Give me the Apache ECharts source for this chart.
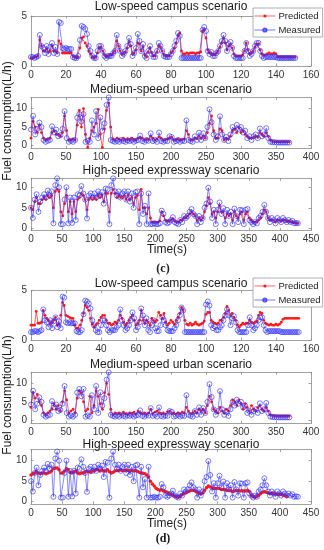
<!DOCTYPE html>
<html><head><meta charset="utf-8">
<script src="https://cdn.jsdelivr.net/npm/echarts@6/dist/echarts.min.js"></script>
<style>html,body{margin:0;padding:0;background:#fff}#c{width:324px;height:550px}</style>
</head><body><div id="c"></div>
<script>
// ---------- data (time step in seconds noted per array) ----------
const lowStep = 1, medStep = 3, highStep = 3;

const lowMeasC = [0.9,0.9,0.8,0.9,1.0, 3.1,2.0,1.8,1.3,2.0, 1.2,1.9,2.3,1.3,1.9, 1.2,4.4,4.3,1.8,1.7,
 1.8,1.7,1.7,1.7,0.9, 0.8,0.8,1.0,2.6,4.0, 3.9,3.7,3.2,2.0,1.5, 1.0,0.8,0.8,1.5,2.0,
 2.0,1.5,1.0,0.8,1.0, 1.0,1.0,1.3,1.5,3.1, 2.0,1.5,1.0,1.2,1.5, 2.0,2.8,2.2,1.0,1.3,
 1.8,3.2,2.5,1.5,2.2, 1.0,0.8,1.5,2.0,1.2, 0.9,0.9,1.5,2.3,2.0, 1.5,1.0,0.9,0.9,0.9,
 1.2,1.5,2.0,2.5,3.3, 3.0,0.8,0.8,0.8,0.8, 0.8,0.8,0.8,0.8,0.8, 0.8,0.8,0.8,3.6,3.9,
 3.5,1.5,1.2,1.4,1.0, 1.0,1.3,1.5,2.0,2.5, 3.1,2.5,1.5,2.2,2.4, 1.8,1.0,0.8,0.8,0.8,
 0.8,0.8,1.5,2.3,1.5, 1.0,1.2,1.5,2.0,2.3, 2.3,1.5,1.0,0.8,0.9, 0.9,0.9,0.9,0.9,0.9,
 0.9,0.8,0.8,0.8,0.8, 0.8,0.8,0.8,0.8,0.8, 0.8,0.8];

const lowPredC = [0.8,0.8,0.9,0.9,1.0, 2.6,2.0,1.5,1.5,1.7, 1.4,1.5,2.0,1.5,1.5, 1.3,2.5,2.2,1.3,1.3,
 1.3,1.3,1.3,1.3,1.0, 0.9,0.8,0.9,1.8,2.8, 2.9,2.3,2.0,1.5,1.2, 0.9,0.8,0.9,1.3,1.8,
 1.9,1.5,1.1,0.9,1.0, 1.1,1.1,1.3,1.5,2.5, 2.0,1.5,1.2,1.2,1.4, 1.8,2.4,2.0,1.2,1.3,
 1.6,2.3,2.2,1.5,1.9, 1.1,0.9,1.4,1.8,1.3, 1.0,1.0,1.4,2.0,1.9, 1.5,1.1,1.0,1.0,1.0,
 1.3,1.5,1.8,2.3,3.0, 3.3,1.5,1.2,1.2,1.3, 1.2,1.3,1.3,1.3,1.2, 1.3,1.3,1.4,3.5,3.6,
 2.8,1.6,1.3,1.3,1.1, 1.1,1.3,1.5,1.9,2.3, 2.8,2.3,1.6,2.0,2.2, 1.8,1.2,1.0,1.0,1.0,
 1.0,1.1,1.5,2.3,1.6, 1.2,1.3,1.5,1.9,2.2, 2.2,1.6,1.2,1.1,1.1, 1.2,1.3,1.2,1.2,1.3,
 1.2,0.9,0.9,0.9,0.9, 0.9,0.9,0.9,0.9,0.9, 0.9,0.9];

const lowMeasD = [0.8,0.8, 0.9,0.9,0.8,0.9,1.0, 3.1,2.0,1.8,1.3,2.0, 1.2,1.9,2.3,1.3,1.9, 1.2,4.4,4.3,1.8,1.7,
 1.8,1.7,1.7,1.7,0.9, 0.8,0.8,1.0,2.6,4.0, 3.9,3.7,3.2,2.0,1.5, 1.0,0.8,0.8,1.5,2.0,
 2.0,1.5,1.0,0.8,1.0, 1.0,1.0,1.3,1.5,3.1, 2.0,1.5,1.0,1.2,1.5, 2.0,2.8,2.2,1.0,1.3,
 1.8,3.2,2.5,1.5,2.2, 1.0,0.8,1.5,2.0,1.2, 0.9,0.9,1.5,2.3,2.0, 1.5,1.0,0.9,0.9,0.9,
 1.2,1.5,2.0,2.5,3.3, 3.0,0.8,0.8,0.8,0.8, 0.8,0.8,0.8,0.8,0.8, 0.8,0.8,0.8,3.6,3.9,
 3.5,1.5,1.2,1.4,1.0, 1.0,1.3,1.5,2.0,2.5, 3.1,2.5,1.5,2.2,2.4, 1.8,1.0,0.8,0.8,0.8,
 0.8,0.8,1.5,2.3,1.5, 1.0,1.2,1.5,2.0,2.3, 2.3,1.5,1.0,0.8,0.9, 0.9,0.9,0.9,0.9,0.9,
 0.9,0.8,0.8,0.8,0.8, 0.8,0.8,0.8,0.8,0.8, 0.8,0.8];

const lowPredD = [1.5,1.5,1.5,2.9,1.7, 1.7,1.8,3.0,2.5,2.2, 2.0,1.6,1.8,2.0,2.3, 1.5,1.6,2.5,3.8,3.5,
 2.5,2.4,2.3,2.2,2.2, 1.5,1.2,1.2,1.5,2.0, 2.7,3.5,3.3,3.0,2.2, 1.6,1.3,1.5,1.7,2.0,
 2.3,2.5,2.5,2.0,1.7, 1.7,1.5,1.6,1.8,1.7, 2.0,2.5,2.2,1.8,1.5, 1.7,2.0,2.3,2.5,2.0,
 1.5,1.7,2.0,3.0,2.0, 1.7,2.0,1.8,1.5,2.2, 2.0,1.8,2.0,2.8,2.5, 2.2,2.7,1.8,1.5,1.7,
 2.0,1.8,1.6,2.0,2.3, 2.7,3.3,3.0,2.0,1.6, 1.5,1.7,1.5,1.6,1.8, 1.6,1.5,1.6,1.7,1.9,
 2.6,2.8,2.8,2.0,1.8, 1.7,1.6,1.7,2.0,2.0, 2.3,2.7,3.4,3.0,2.5, 2.7,2.3,2.0,1.5,1.3,
 1.5,1.7,1.6,1.7,1.7, 2.0,1.8,1.7,1.8,1.9, 2.5,2.8,2.7,2.0,1.7, 1.6,1.5,1.6,1.5,1.5,
 1.6,1.5,1.6,1.8,2.1, 2.2,2.2,2.2,2.2,2.2, 2.2,2.2,2.2,2.2];

const medMeas = [4.3,8.0,3.0,4.5,6.2, 5.0,1.5,1.0,1.3,1.5, 5.2,3.5,4.3,2.5,2.8, 4.5,9.3,2.0,1.0,1.3,
 1.0,1.5,7.5,8.5,6.5, 8.5,1.0,1.3,1.0,6.8, 3.0,9.3,2.0,7.6,4.0, 6.0,11.0,13.0,1.5,1.2,
 1.0,1.3,1.0,1.5,1.2, 1.0,1.4,1.2,1.5,1.0, 1.3,1.5,2.7,1.2,1.0, 1.5,1.3,3.3,1.2,1.5,
 1.0,3.5,1.2,1.0,1.3, 1.2,2.5,2.3,1.0,1.2, 1.5,1.0,1.3,1.2,6.8, 1.5,1.2,1.0,2.5,1.5,
 3.5,1.5,3.3,2.0,5.0, 9.8,6.3,3.0,1.5,2.5, 7.9,3.0,1.5,2.3,1.2, 3.0,5.0,4.0,5.6,4.5,
 5.0,3.5,4.0,2.0,2.5, 1.5,2.5,3.0,2.0,4.6, 2.5,3.0,4.7,2.0,1.0, 0.9,0.9,0.8,0.8,0.8,
 0.8,0.8,0.8,0.8];

const medPredC = [2.0,6.5,5.0,3.5,5.5, 3.5,2.0,1.5,1.8,2.0, 3.5,4.0,3.0,3.0,2.5, 3.5,8.0,4.0,1.5,1.5,
 1.8,1.5,5.5,9.5,5.0, 10.0,3.0,-0.5,2.0,4.0, 5.0,6.0,9.8,3.0,-0.5, 4.5,9.5,11.5,5.0,1.8,
 1.5,2.0,1.7,1.5,2.0, 1.5,1.8,1.5,2.0,1.6, 1.5,2.0,2.2,2.0,1.5, 1.8,1.6,2.5,2.0,1.5,
 1.8,2.3,2.0,1.5,1.6, 1.8,2.0,2.2,1.5,1.6, 1.8,1.5,1.6,1.8,4.0, 3.0,1.5,1.6,2.0,1.8,
 2.5,2.0,2.5,2.0,3.5, 6.0,8.0,4.0,2.0,2.0, 4.5,4.0,1.5,2.0,1.8, 2.5,4.0,4.5,3.5,4.8,
 3.5,4.0,3.0,2.5,2.0, 2.0,2.2,2.5,2.2,3.5, 3.0,2.5,3.5,2.5,1.5, 1.2,1.0,1.0,1.0,1.0,
 1.0,1.0,1.0,1.0];

const medPredD = [3.5,7.5,6.0,7.0,5.0, 4.0,2.0,1.5,2.0,2.5, 3.0,4.5,3.0,4.0,2.5, 5.0,8.0,5.5,2.0,2.5,
 3.0,2.0,6.0,8.0,7.5, 5.0,2.5,3.0,6.5,2.0, 4.0,8.0,6.5,4.5,3.0, 7.5,10.0,7.0,3.0,1.5,
 2.0,1.8,2.0,1.6,2.2, 1.8,1.6,2.0,1.8,2.2, 1.7,2.5,2.0,1.8,2.0, 1.6,2.0,3.0,1.8,2.2,
 2.5,2.0,1.8,2.0,1.7, 2.3,2.5,1.8,2.0,1.7, 2.0,1.8,2.2,2.0,3.5, 2.5,1.8,2.0,2.5,2.0,
 3.0,2.5,3.0,2.0,4.0, 6.5,5.0,3.0,2.5,2.0, 3.5,2.5,2.0,3.0,2.5, 4.0,5.5,5.0,4.0,5.5,
 4.5,3.0,4.5,3.5,2.5, 4.0,3.0,2.5,3.5,4.0, 3.0,2.5,3.5,2.5,1.5, 1.3,1.2,1.2,1.2,1.2,
 1.2,1.2,1.2,1.2];

const highMeas = [5.0,2.5,7.0,8.3,4.0, 6.5,7.5,8.3,7.5,9.2, 8.0,9.0,1.2,10.5,12.2, 10.0,1.0,1.0,7.0,10.0,
 1.2,7.5,1.3,7.5,2.0, 8.3,8.0,10.3,8.5,7.0, 2.4,8.0,8.5,7.5,8.5, 7.5,9.0,8.0,8.8,6.0,
 9.7,9.5,1.0,10.5,12.2, 9.0,8.0,9.0,7.5,8.5, 9.0,7.0,9.0,6.5,8.5, 5.0,8.8,9.0,1.0,8.5,
 3.5,5.5,1.0,8.5,1.0, 1.0,1.2,1.0,1.0,1.2, 4.3,3.5,1.5,1.2,1.5, 2.0,2.7,1.5,1.2,1.0,
 2.0,1.5,3.0,2.5,3.0, 4.0,4.7,3.5,3.0,1.0, 3.0,1.5,2.5,5.0,6.0, 9.9,6.5,2.5,4.5,1.0,
 4.5,6.3,3.5,4.9,1.0, 4.5,3.0,4.0,1.0,4.8, 3.0,1.5,4.5,4.4,1.0, 4.5,4.7,2.0,1.5,1.0,
 1.5,1.2,2.5,3.0,4.0, 5.7,4.0,2.5,1.5,2.5, 2.0,1.2,2.5,2.0,1.5, 2.5,2.0,1.5,2.0,1.5,
 1.8,1.2,1.3,1.2];

const highPredC = [5.0,4.5,6.5,7.5,6.0, 6.0,7.0,7.5,7.0,8.0, 7.5,8.0,5.0,9.0,9.5, 9.0,4.0,3.0,6.0,8.0,
 4.0,6.5,3.5,6.5,4.0, 7.0,7.5,8.5,8.0,7.0, 4.5,7.0,7.5,7.0,7.5, 7.0,8.0,7.5,8.0,6.5,
 8.5,8.5,4.0,8.5,9.5, 8.5,7.5,8.0,7.5,7.5, 8.0,7.0,8.0,7.0,7.5, 6.0,7.5,8.0,4.5,9.5,
 5.0,5.0,3.5,5.0,2.5, 1.5,1.5,1.5,1.5,1.8, 4.0,3.0,2.0,1.8,1.8, 2.0,2.3,1.8,1.5,1.5,
 2.0,2.0,2.5,2.5,3.0, 3.5,4.0,3.5,3.0,2.0, 2.5,2.0,2.5,4.0,5.5, 7.5,6.0,3.5,4.0,2.5,
 4.0,5.5,4.0,4.0,2.5, 3.5,3.0,3.5,2.0,4.0, 3.0,2.5,3.5,4.0,2.0, 3.5,4.0,2.5,2.0,1.5,
 1.5,1.5,2.0,2.5,3.5, 4.5,4.0,2.5,2.0,2.0, 2.0,1.5,2.0,2.0,1.7, 2.0,2.0,1.6,1.8,1.5,
 1.6,1.3,1.3,1.2];

const highPredD = [6.5,6.8,7.0,7.3,7.0, 6.8,7.0,7.0,6.8,7.0, 7.2,7.5,8.0,8.2,8.2, 7.8,7.0,7.0,7.5,8.0,
 7.8,7.2,7.0,7.3,7.5, 7.0,6.8,7.0,7.0,7.2, 7.5,7.3,7.2,7.5,7.6, 7.8,7.8,7.5,7.8,7.5,
 7.5,7.8,7.3,7.0,7.2, 7.5,7.6,7.6,7.7,7.6, 7.6,7.7,7.6,7.5,7.6, 7.5,7.6,7.4,7.2,7.0,
 6.9,6.8,6.5,6.0,5.0, 4.3,3.8,3.3,3.0,2.8, 2.9,2.6,2.5,2.3,2.0, 1.8,1.6,1.4,1.2,1.1,
 1.4,1.7,2.0,2.2,2.4, 2.6,2.8,2.8,2.6,2.3, 2.0,1.9,2.2,2.8,3.4, 3.8,3.6,3.4,3.3,3.2,
 3.3,3.2,3.0,3.0,2.9, 2.8,2.8,2.7,2.5,2.6, 2.8,2.7,2.6,2.7,2.6, 2.6,2.8,2.5,1.6,1.2,
 1.1,1.3,1.6,2.0,2.3, 2.4,2.3,2.2,2.0,2.0, 2.0,1.9,1.8,1.8,1.8, 1.6,1.5,1.3];

const panelTitles = ['Low-speed campus scenario','Medium-speed urban scenario','High-speed expressway scenario'];
const seriesNames = ['Predicted','Measured'];
const yAxisName = 'Fuel consumption(L/h)';
const xAxisName = 'Time(s)';
const subLabels = ['(c)','(d)'];
const lowYTicks = [0,5], medYTicks = [0,5,10], highYTicks = [0,5,10];

// ---------- layout ----------
const FONT = '"Liberation Sans", Arial, Helvetica, sans-serif';
const AX = '#8a8a8a';
const panels = [
  {top:16,   h:50,   xmax:160, xint:20, ymin:0,    ymax:5,    yt:lowYTicks,  meas:lowMeasC, pred:lowPredC, st:lowStep,  title:0, ty:7},
  {top:97.5, h:51,   xmax:400, xint:50, ymin:-0.8, ymax:13,   yt:medYTicks,  meas:medMeas,  pred:medPredC, st:medStep,  title:1, ty:90},
  {top:178.3,h:52,   xmax:450, xint:50, ymin:-0.5, ymax:12.2, yt:highYTicks, meas:highMeas, pred:highPredC,st:highStep, title:2, ty:171},
  {top:290.7,h:49.3, xmax:160, xint:20, ymin:0,    ymax:5,    yt:lowYTicks,  meas:lowMeasD, pred:lowPredD, st:lowStep,  title:0, ty:284},
  {top:372.3,h:51,   xmax:400, xint:50, ymin:-0.8, ymax:13,   yt:medYTicks,  meas:medMeas,  pred:medPredD, st:medStep,  title:1, ty:365},
  {top:449.5,h:54.3, xmax:450, xint:50, ymin:-0.5, ymax:12.7, yt:highYTicks, meas:highMeas, pred:highPredD,st:highStep, title:2, ty:445}
];

const pairs = (vals, step) => vals.map((v, i) => [i * step, v]);

const grid = [], xAxis = [], yAxis = [], series = [], graphic = [];
const lineSt = {color: AX, width: 0.8};
panels.forEach((p, k) => {
  grid.push({left: 31, width: 280, top: p.top, height: p.h});
  ['bottom','top'].forEach((pos, j) => xAxis.push({
    gridIndex: k, type: 'value', position: pos, min: 0, max: p.xmax, interval: p.xint,
    axisLine: {show: true, onZero: false, lineStyle: lineSt},
    axisTick: {show: true, inside: true, length: 2.5, lineStyle: lineSt},
    axisLabel: {show: j === 0, fontSize: 10, color: '#333', margin: 4, fontFamily: FONT},
    splitLine: {show: false}
  }));
  ['left','right'].forEach((pos, j) => yAxis.push({
    gridIndex: k, type: 'value', position: pos, min: p.ymin, max: p.ymax,
    axisLine: {show: true, onZero: false, lineStyle: lineSt},
    axisTick: {show: true, inside: true, length: 2.5, lineStyle: lineSt, customValues: p.yt},
    axisLabel: {show: j === 0, fontSize: 10, color: '#333', margin: 4, fontFamily: FONT, customValues: p.yt},
    splitLine: {show: false}
  }));
  series.push({
    name: seriesNames[0], type: 'line', xAxisIndex: 2*k, yAxisIndex: 2*k,
    data: pairs(p.pred, p.st), symbol: 'circle', symbolSize: (k === 5 ? 3.5 : 2.8), showAllSymbol: true,
    itemStyle: {color: '#ff1a1a'}, lineStyle: {color: 'rgba(255,30,30,0.85)', width: 0.8},
    emphasis: {disabled: true}, z: 2
  });
  series.push({
    name: seriesNames[1], type: 'line', xAxisIndex: 2*k, yAxisIndex: 2*k,
    data: pairs(p.meas, p.st), symbol: 'circle', symbolSize: 5, showAllSymbol: true,
    itemStyle: {color: 'rgba(255,255,255,0)', borderColor: 'rgba(45,45,255,0.8)', borderWidth: 0.8},
    lineStyle: {color: 'rgba(45,45,255,0.8)', width: 0.7},
    emphasis: {disabled: true}, z: 3
  });
  graphic.push({type: 'text', x: 171, y: p.ty, z: 100,
    style: {text: panelTitles[p.title], font: '12px ' + FONT, fill: '#1a1a1a', align: 'center', verticalAlign: 'middle'}});
});

[[250, 269, 121], [524, 539, 395]].forEach(([ty, sy, yy], i) => {
  graphic.push({type: 'text', x: 167, y: ty, style: {text: xAxisName, font: '12px ' + FONT, fill: '#1a1a1a', align: 'center', verticalAlign: 'middle'}});
  graphic.push({type: 'text', x: 163, y: sy, style: {text: subLabels[i], font: 'bold 12px "Liberation Serif", "Times New Roman", serif', fill: '#1a1a1a', align: 'center', verticalAlign: 'middle'}});
  graphic.push({type: 'text', x: 8, y: yy, rotation: Math.PI / 2, style: {text: yAxisName, font: '12px ' + FONT, fill: '#1a1a1a', align: 'center', verticalAlign: 'middle'}});
});

const legendBase = {
  left: 253, orient: 'vertical', data: seriesNames, selectedMode: false,
  itemWidth: 21, itemHeight: 4, itemGap: 4, padding: [3, 2, 2, 1],
  backgroundColor: '#fff', borderColor: '#9a9a9a', borderWidth: 0.8,
  lineStyle: {width: 0.8},
  textStyle: {fontSize: 9.5, color: '#1a1a1a', fontFamily: FONT, padding: [0,0,0,-2]}, z: 50
};
const legend = [Object.assign({top: 8}, legendBase), Object.assign({top: 278}, legendBase)];

const chart = echarts.init(document.getElementById('c'), null, {renderer: 'canvas'});
chart.setOption({animation: false, backgroundColor: '#fff', grid, xAxis, yAxis, series, legend, graphic});
</script></body></html>
